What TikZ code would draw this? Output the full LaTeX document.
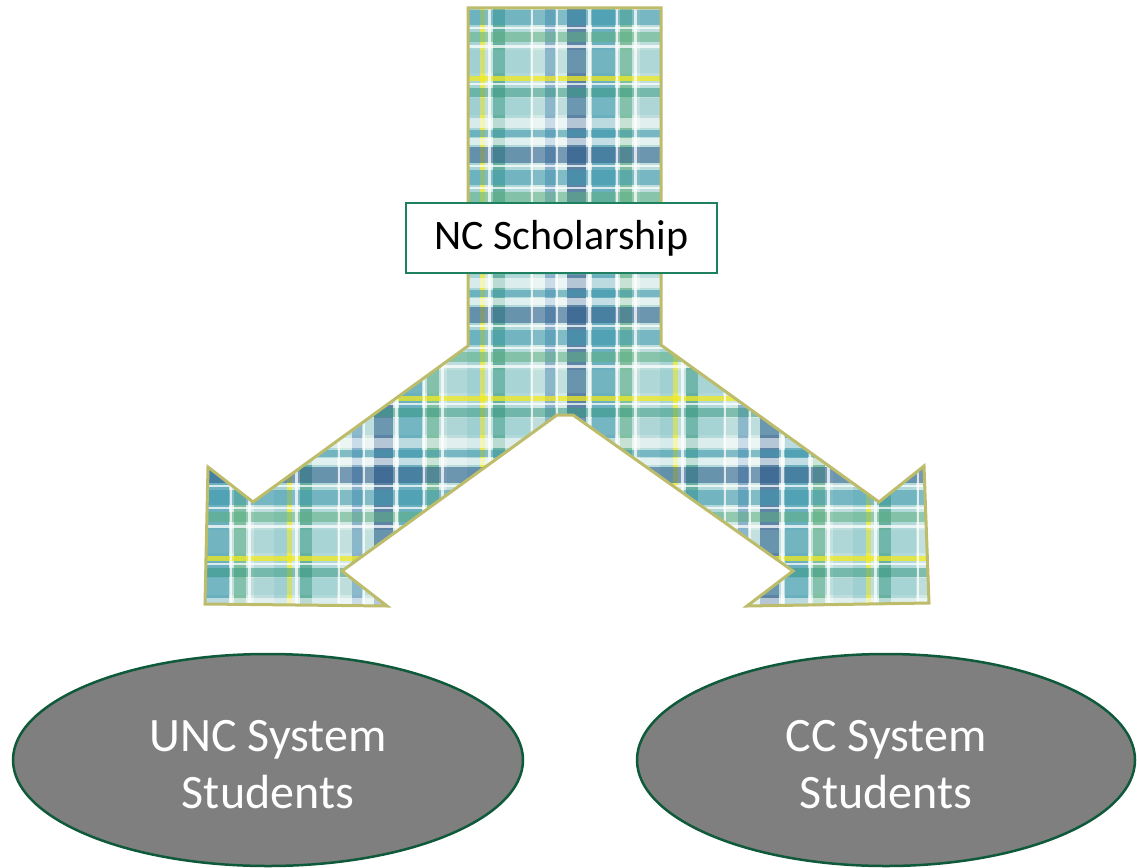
\documentclass[tikz,border=0pt]{standalone}
\usepackage{fontspec}
\setmainfont{Carlito}
\usetikzlibrary{shapes.geometric}
\definecolor{plbase}{HTML}{D3E9E5}
\definecolor{pllight}{HTML}{8CC6CB}
\definecolor{plteal}{HTML}{3E98AE}
\definecolor{pltealgr}{HTML}{3A9A84}
\definecolor{plgreen}{HTML}{5DAF83}
\definecolor{plsteel}{HTML}{6D9CC0}
\definecolor{pldark}{HTML}{2B5A8A}
\definecolor{plyellow}{HTML}{F2EA1E}
\definecolor{arrowedge}{HTML}{BDBC6B}
\definecolor{boxedge}{HTML}{1F8060}
\definecolor{elledge}{HTML}{0E5A3A}
\definecolor{ellfill}{HTML}{7F7F7F}
\newcommand{\plaidV}[3]{\fill[#3] ({\xo+#1},0) rectangle ({\xo+#2},620);}
\newcommand{\plaidH}[3]{\fill[#3] (190,{\yo+#1}) rectangle (950,{\yo+#2});}
\tikzset{
  vcol/.style={fill=#1, opacity=0.7},
  hcol/.style={fill=#1, opacity=0.55},
  wline/.style={fill=white, opacity=0.75},
  titlebox/.style={draw=boxedge, line width=2.5pt, fill=white, minimum width=311pt, minimum height=70pt, inner sep=0pt, font=\fontsize{42}{50}\selectfont},
  target/.style={ellipse, draw=elledge, line width=2.5pt, fill=ellfill, inner sep=0pt, text=white, align=center, font=\fontsize{48}{57}\selectfont},
  arrowline/.style={draw=arrowedge, line width=3pt, line join=miter}
}
\begin{document}
\begin{tikzpicture}[x=1pt,y=-1pt]
\useasboundingbox (0,0) rectangle (1137,867);
% arrow outline points
\coordinate (a1) at (468,8);
\coordinate (a2) at (661,8);
\coordinate (a3) at (661,345);
\coordinate (a4) at (879,502);
\coordinate (a5) at (924,466);
\coordinate (a6) at (929,603);
\coordinate (a7) at (747,606);
\coordinate (a8) at (793,571);
\coordinate (a9) at (573,415);
\coordinate (a10) at (557,415);
\coordinate (a11) at (342,571);
\coordinate (a12) at (387,606);
\coordinate (a13) at (205,604);
\coordinate (a14) at (208,467);
\coordinate (a15) at (253,502);
\coordinate (a16) at (468,346);
\begin{scope}
\clip (a1) -- (a2) -- (a3) -- (a4) -- (a5) -- (a6) -- (a7) -- (a8) -- (a9) -- (a10) -- (a11) -- (a12) -- (a13) -- (a14) -- (a15) -- (a16) -- cycle;
\fill[plbase] (190,0) rectangle (950,620);
% vertical stripes
\foreach \k in {-2,...,2} {
  \pgfmathsetmacro{\xo}{482+193*\k}
  \plaidV{-2}{3}{vcol=plyellow}
  \plaidV{11}{23}{vcol=pltealgr}
  \plaidV{23}{48}{vcol=pllight, opacity=0.45}
  \plaidV{63}{73}{vcol=plsteel}
  \plaidV{85}{104}{vcol=pldark}
  \plaidV{110}{133}{vcol=plteal}
  \plaidV{138}{150}{vcol=plgreen}
  \plaidV{158}{178}{vcol=pllight, opacity=0.3}
  \plaidV{178}{191}{vcol=pllight, opacity=0.6}
}
% horizontal stripes
\foreach \k in {-1,...,3} {
  \pgfmathsetmacro{\yo}{78+160*\k}
  \plaidH{-2}{3}{hcol=plyellow, opacity=0.75}
  \plaidH{10}{19}{hcol=pltealgr}
  \plaidH{20}{37}{hcol=pllight, opacity=0.3}
  \plaidH{52}{59}{hcol=plteal}
  \plaidH{69}{85}{hcol=pldark}
  \plaidH{92}{107}{hcol=plteal}
  \plaidH{114}{124}{hcol=plgreen}
  \plaidH{132}{155}{hcol=pllight, opacity=0.25}
}
% white lines
\foreach \k in {-2,...,2} {
  \pgfmathsetmacro{\xo}{482+193*\k}
  \plaidV{49}{51}{wline}
  \plaidV{74}{76}{wline}
  \plaidV{106}{109}{wline}
  \plaidV{134}{136}{wline}
  \plaidV{152}{155}{wline}
  \plaidV{6}{9}{wline}
}
\foreach \k in {-1,...,3} {
  \pgfmathsetmacro{\yo}{78+160*\k}
  \plaidH{5}{7}{wline}
  \plaidH{40}{50}{wline, opacity=0.55}
  \plaidH{60}{67}{wline, opacity=0.6}
  \plaidH{87}{89}{wline}
  \plaidH{109}{111}{wline}
  \plaidH{127}{130}{wline}
}
\end{scope}
\draw[arrowline] (a1) -- (a2) -- (a3) -- (a4) -- (a5) -- (a6) -- (a7) -- (a8) -- (a9) -- (a10) -- (a11) -- (a12) -- (a13) -- (a14) -- (a15) -- (a16) -- cycle;
% nodes
\node[titlebox] (title) at (561.5,238) {NC Scholarship};
\node[target, minimum width=510pt, minimum height=212pt] (unc) at (268,760) {};
\node[target, minimum width=498pt, minimum height=212pt] (cc) at (886,760) {};
\node[text=white, align=center, font=\fontsize{48}{57}\selectfont] (unct) at ([yshift=-5pt]unc.center) {UNC System\\Students};
\node[text=white, align=center, font=\fontsize{48}{57}\selectfont] (cct) at ([yshift=-5pt]cc.center) {CC System\\Students};
\end{tikzpicture}
\end{document}
